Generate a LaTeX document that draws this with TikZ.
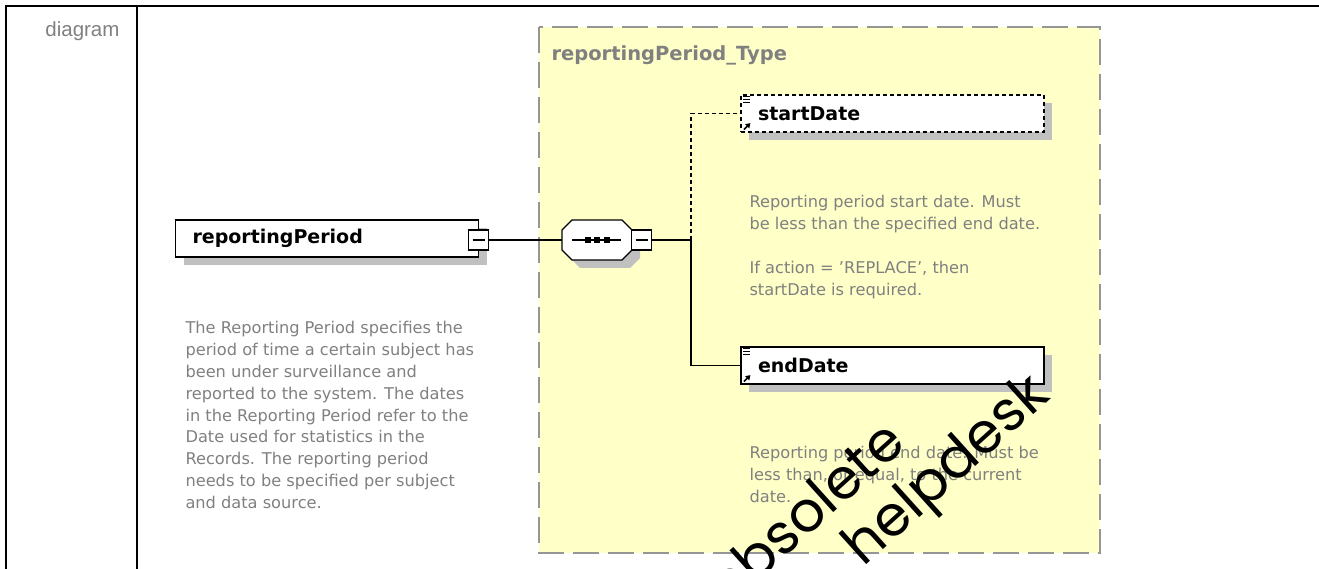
\documentclass[tikz,border=0pt]{standalone}
\usepackage{fontspec}
\setmainfont{DejaVu Sans}
\newfontfamily\headfont{Liberation Sans}
\newfontfamily\markfont{Poppins}
\usetikzlibrary{positioning}
\usetikzlibrary{shadows}
\usetikzlibrary{arrows.meta}
\definecolor{typefill}{RGB}{255,255,200}
\definecolor{shadowgray}{RGB}{192,192,192}
\definecolor{docgray}{RGB}{128,128,128}
\definecolor{dashgray}{RGB}{150,150,150}

\begin{document}
\begin{tikzpicture}[x=1pt,y=-1pt,
            shade/.style = {general shadow={fill=shadowgray,
                shadow xshift=8pt,shadow yshift=-8pt}},
            elbox/.style = {draw,line width=1.2pt,fill=white,shade,
                minimum height=37pt,inner xsep=17pt,text width=269pt,
                align=left,font=\bfseries\fontsize{19}{21}\selectfont},
            minusbox/.style = {draw,line width=1.2pt,fill=white,
                minimum width=20pt,minimum height=20pt,inner sep=0pt,
                path picture={\draw[line width=1.2pt]
                    ([xshift=-6pt]path picture bounding box.center) --
                    ([xshift=6pt]path picture bounding box.center);}},
            seqbox/.style = {minimum width=70pt,minimum height=40pt,inner sep=0pt},
            doc/.style = {anchor=north west,align=left,text=docgray,
                font=\fontsize{16.2}{21.8}\selectfont},
            wire/.style = {line width=1.2pt}]
            \useasboundingbox (0,0) rectangle (1319,569);
            % table frame
            \draw[line width=2.2pt] (6,569) -- (6,6) -- (1319,6);
            \draw[line width=2.2pt] (137,6) -- (137,569);
            \node[anchor=east,text=docgray,font=\headfont\fontsize{20.5}{22}\selectfont]
                (cap) at (123,31) {diagram};
            % complex type
            \draw[dashgray,line width=2pt,dash pattern=on 26pt off 9pt,
                fill=typefill] (539,27) rectangle (1100,553);
            \node[anchor=west,text=docgray,font=\bfseries\fontsize{19.5}{21}\selectfont]
                (type) at (548,55) {reportingPeriod\_Type};
            % elements
            \node[elbox](rp) at (327,238.5) {reportingPeriod};
            \node[minusbox](rpm) at (478.5,240) {};
            \node[seqbox](seq) at (597,240) {};
            \node[elbox,dashed,dash pattern=on 4pt off 3pt](start) at (892.5,113.5) {startDate};
            \node[elbox](endd) at (892.5,365.5) {endDate};
            \coordinate (split) at (691,240);
            % sequence octagon
            \foreach \s/\f/\d in {8/shadowgray/none,0/white/black}
                \draw[line width=1.2pt,fill=\f,draw=\d] (seq.center) ++(\s,\s)
                    +(-25,-20) -- +(25,-20) -- +(35,-10) -- +(35,10)
                    -- +(25,20) -- +(-25,20) -- +(-35,10) -- +(-35,-10) -- cycle;
            \node[minusbox](seqm) at (641.5,240) {};
            \draw[wire] ([xshift=-25pt]seq.center) -- ([xshift=24pt]seq.center);
            \foreach \dx in {-9,0,10}
                \fill ([xshift=\dx pt]seq.center) +(-2.8,-2.8) rectangle +(2.8,2.8);
            % element icons
            \foreach \el in {start,endd}{
                \foreach \k in {0,1,2}
                    \draw[line width=0.9pt] ([xshift=3pt,yshift={-(2.5+2.6*\k)*1pt}]\el.north west) -- ++(7,0);
                \draw[line width=1.5pt,-{Triangle[length=4.5pt,width=5.5pt]}]
                    ([xshift=3.5pt,yshift=3pt]\el.south west) -- ++(6.5,-6.5);
            }
            % connectors
            \draw[wire] (rpm.east) -- (seq.west);
            \draw[wire] (seqm.east) -- (split);
            \draw[wire,dash pattern=on 4pt off 3pt] (split) |- (start.west);
            \draw[wire] (split) |- (endd.west);
            % documentation
            \node[doc](rpdoc) at (182,318) {The Reporting Period specifies the\\
                period of time a certain subject has\\
                been under surveillance and\\
                reported to the system. The dates\\
                in the Reporting Period refer to the\\
                Date used for statistics in the\\
                Records. The reporting period\\
                needs to be specified per subject\\
                and data source.};
            \node[doc](startdoc) at (746,192) {Reporting period start date. Must\\
                be less than the specified end date.\\[21.8pt]
                If action = 'REPLACE', then\\
                startDate is required.};
            \node[doc](enddoc) at (746,443) {Reporting period end date. Must be\\
                less than, or equal, to the current\\
                date.};
            % watermark
            \begin{scope}
                \clip (0,0) rectangle (1319,569);
                \node[anchor=base east,rotate=42,inner sep=0pt,
                    font=\markfont\fontsize{56}{62}\selectfont] (mark1) at (908,446) {obsolete};
                \node[anchor=base east,rotate=42,inner sep=0pt,
                    font=\markfont\fontsize{56}{62}\selectfont] (mark2) at (1052,398) {helpdesk};
            \end{scope}
        \end{tikzpicture}
\end{document}
